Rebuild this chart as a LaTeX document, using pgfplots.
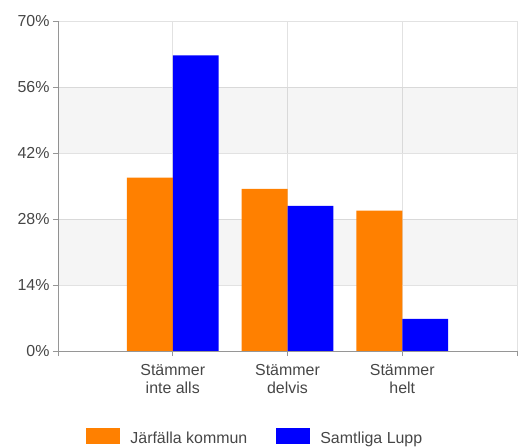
\documentclass[border=0pt]{standalone}
\usepackage{fontspec}
\setmainfont{Liberation Sans}
\usepackage{pgfplots}
\pgfplotsset{compat=1.18}

\definecolor{jorange}{RGB}{255,128,0}
\definecolor{lblue}{RGB}{0,0,255}
\definecolor{gridgray}{RGB}{226,226,226}
\definecolor{axisgray}{RGB}{150,150,150}
\definecolor{txtgray}{RGB}{70,70,70}

\begin{document}
\begin{tikzpicture}
\path[use as bounding box] (0,0) rectangle (524bp,447bp);
\begin{axis}[
    at={(58bp,96bp)}, anchor=south west,
    scale only axis,
    width=459bp, height=330bp,
    ybar, bar width=0.4,
    xmin=0, xmax=4,
    ymin=0, ymax=70,
    xtick={0,1,2,3,4},
    xticklabels={{},{Stämmer\\inte alls},{Stämmer\\delvis},{Stämmer\\helt},{}},
    ytick={0,14,28,42,56,70},
    yticklabel={\pgfmathprintnumber{\tick}\%},
    /pgf/number format/assume math mode=true,
    axis x line*=bottom,
    axis y line*=left,
    axis line style={draw=axisgray, line width=0.8pt},
    tick style={draw=axisgray, line width=0.8pt},
    tick align=outside,
    major tick length=5bp,
    xmajorgrids, ymajorgrids,
    grid style={draw=gridgray, line width=0.6pt},
    tick label style={font=\fontsize{16}{18}\selectfont, text=txtgray},
    xticklabel style={align=center, yshift=-5bp},
    legend columns=2,
    legend style={
        draw=none, fill=none,
        at={(0.055,-0.226)}, anchor=north west,
        font=\fontsize{16}{18}\selectfont, text=txtgray,
        /tikz/every odd column/.append style={column sep=8bp},
        /tikz/every even column/.append style={column sep=27bp},
    },
    legend image code/.code={\fill[#1] (0bp,-5bp) rectangle (34bp,11bp);},
]
% light bands behind the bars (translucent so the grid shows through)
\fill[black, fill opacity=0.04] (axis cs:0,14) rectangle (axis cs:4,28);
\fill[black, fill opacity=0.04] (axis cs:0,42) rectangle (axis cs:4,56);

% Järfälla kommun
\addplot[fill=jorange, draw=none, bar shift=-0.2]
    coordinates {(1,36.8) (2,34.4) (3,29.8)};
\addlegendentry{Järfälla kommun}

% Samtliga Lupp
\addplot[fill=lblue, draw=none, bar shift=0.2]
    coordinates {(1,62.7) (2,30.8) (3,6.8)};
\addlegendentry{Samtliga Lupp}
\end{axis}
\end{tikzpicture}
\end{document}
